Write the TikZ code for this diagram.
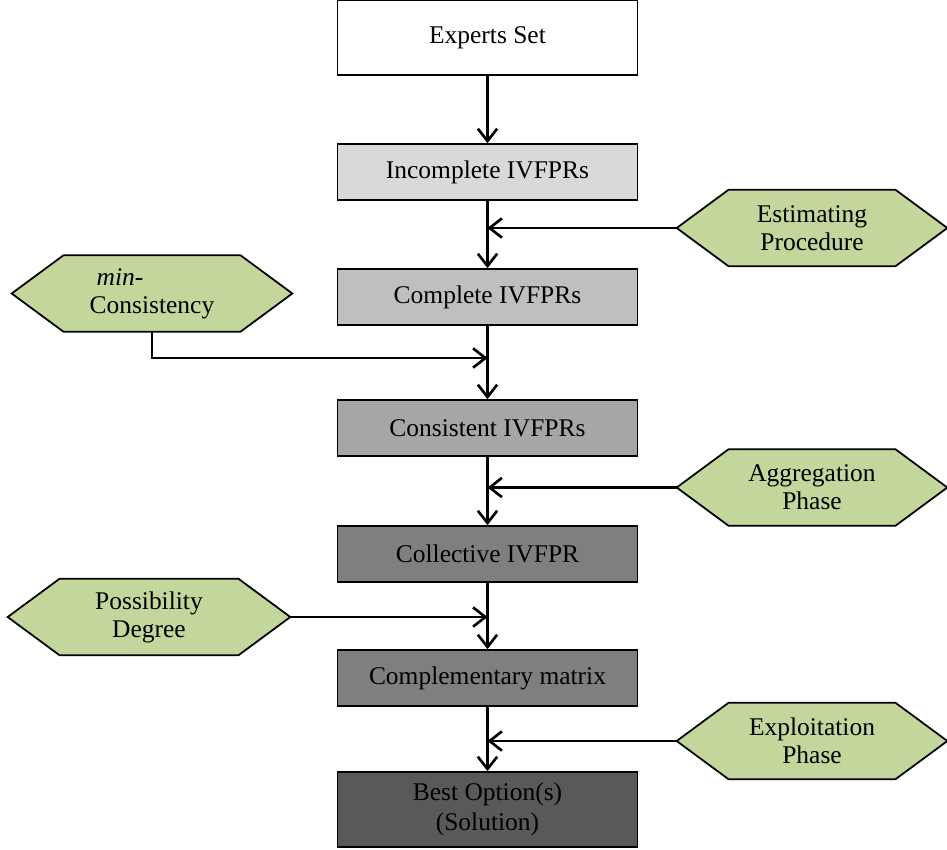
\documentclass[tikz,border=0pt]{standalone}
\usepackage{fontspec}
\setmainfont{Liberation Serif}
\usetikzlibrary{arrows.meta, backgrounds}
\definecolor{hexgreen}{HTML}{C3D69B}
\definecolor{grayA}{HTML}{D9D9D9}
\definecolor{grayB}{HTML}{BFBFBF}
\definecolor{grayC}{HTML}{A6A6A6}
\definecolor{grayD}{HTML}{7F7F7F}
\definecolor{grayE}{HTML}{595959}

\begin{document}
\begin{tikzpicture}[x=0.02cm, y=-0.02cm,
    stage/.style={draw, line width=1pt, minimum width=6cm, minimum height=1.12cm,
        inner sep=0pt, align=center, font=\fontsize{14.5}{17}\selectfont},
    hexlabel/.style={minimum width=5.4cm, minimum height=1.52cm, inner sep=0pt,
        align=center, font=\fontsize{14.5}{16}\selectfont},
    flow/.style={-{Straight Barb[length=7pt, width=11pt]}, line width=1.5pt}]
    \useasboundingbox (0,0) rectangle (947,849);

    % main chain
    \node[stage, fill=white, minimum height=1.5cm] (experts) at (487.5,37.5) {Experts Set};
    \node[stage, fill=grayA] (incom) at (487.5,172) {Incomplete IVFPRs};
    \node[stage, fill=grayB] (compl) at (487.5,297) {Complete IVFPRs};
    \node[stage, fill=grayC] (consis) at (487.5,428) {Consistent IVFPRs};
    \node[stage, fill=grayD] (collec) at (487.5,554) {Collective IVFPR};
    \node[stage, fill=grayD] (compm) at (487.5,678) {Complementary matrix};
    \node[stage, fill=grayE, minimum height=1.5cm] (best) at (487.5,809.5) {Best Option(s)\\(Solution)};

    % side inputs
    \node[hexlabel] (est) at (812,228) {Estimating\\Procedure};
    \node[hexlabel, minimum width=5.6cm, align=left] (minc) at (152,293.5) {\hspace*{0.14cm}\textit{min}-\\Consistency};
    \node[hexlabel] (aggr) at (812,487.5) {Aggregation\\Phase};
    \node[hexlabel, minimum width=5.64cm] (poss) at (149,617) {Possibility\\Degree};
    \node[hexlabel] (expl) at (812,741) {Exploitation\\Phase};

    \begin{scope}[on background layer]
        \foreach \h in {est, minc, aggr, poss, expl}
            \draw[fill=hexgreen, line width=1pt] (\h.west) -- ([xshift=1.04cm]\h.north west)
                -- ([xshift=-1.04cm]\h.north east) -- (\h.east)
                -- ([xshift=-1.04cm]\h.south east) -- ([xshift=1.04cm]\h.south west) -- cycle;
    \end{scope}

    % connectors
    \draw[flow] (experts.south) -- (incom.north);
    \draw[flow] (incom.south) -- (compl.north);
    \draw[flow] (compl.south) -- (consis.north);
    \draw[flow] (consis.south) -- (collec.north);
    \draw[flow] (collec.south) -- (compm.north);
    \draw[flow] (compm.south) -- (best.north);

    \coordinate (mjoin) at (487.5,358);
    \draw[flow] (est.west) -- (est.west -| incom.south);
    \draw[flow] (minc.south) |- (mjoin);
    \draw[flow] (aggr.west) -- (aggr.west -| consis.south);
    \draw[flow] (poss.east) -- (poss.east -| collec.south);
    \draw[flow] (expl.west) -- (expl.west -| compm.south);
\end{tikzpicture}
\end{document}
